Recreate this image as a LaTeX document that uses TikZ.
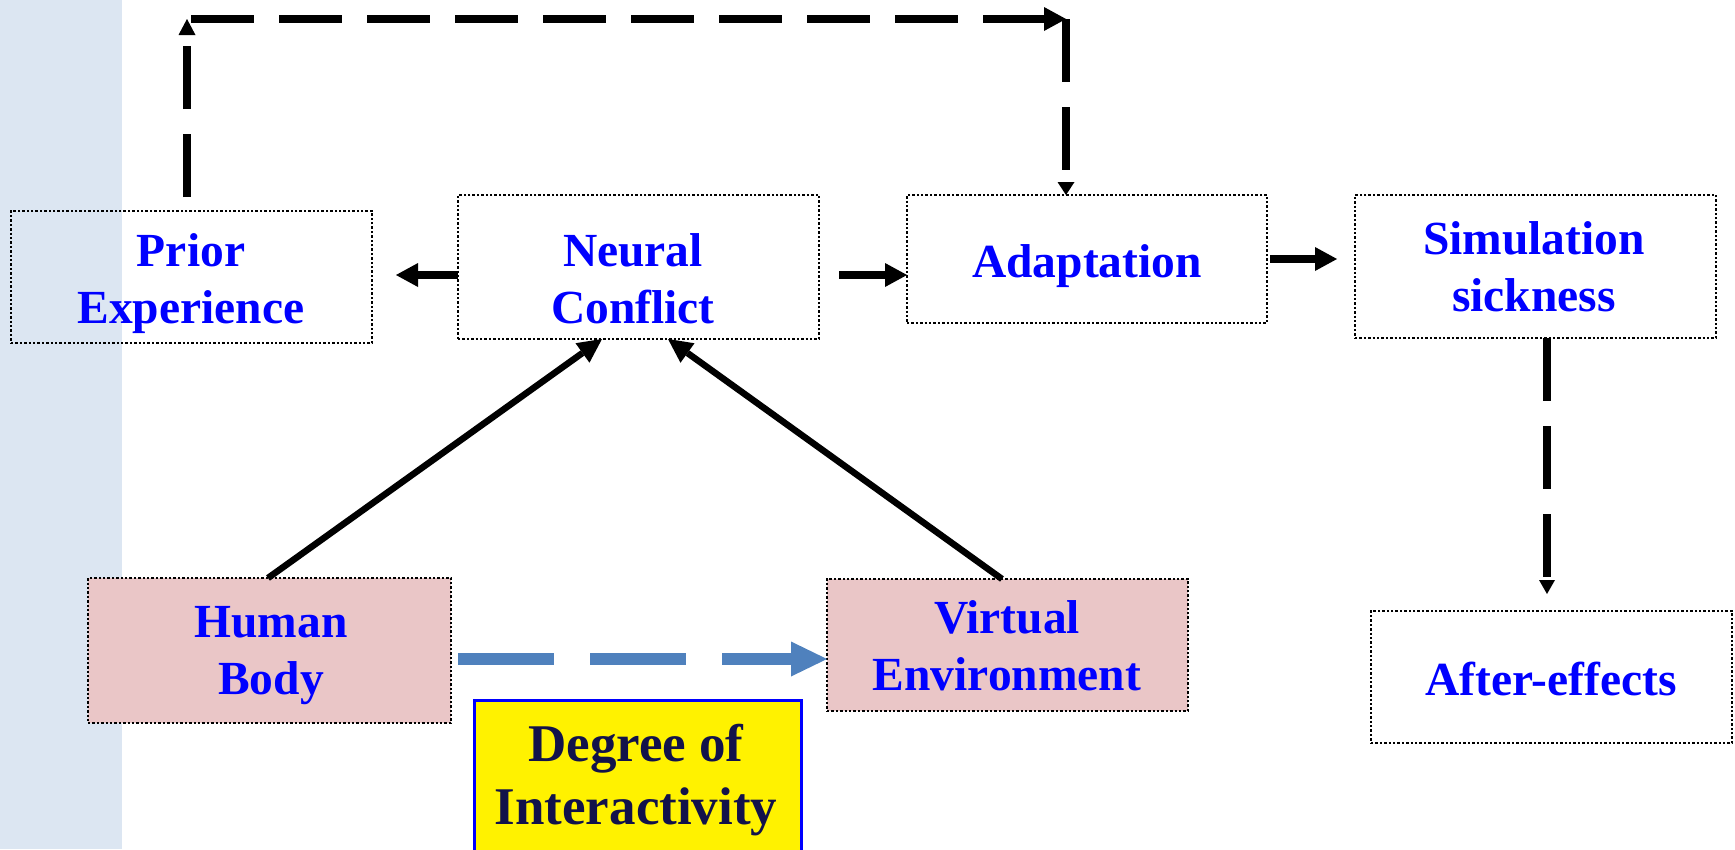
\documentclass[tikz,border=0pt]{standalone}
\usepackage{fontspec}
\setmainfont{Liberation Serif}
\usetikzlibrary{arrows.meta,calc}

\definecolor{stripblue}{HTML}{DCE6F2}
\definecolor{boxpink}{HTML}{EAC6C7}
\definecolor{labelblue}{HTML}{0000FF}
\definecolor{navy}{HTML}{12124A}
\definecolor{flowblue}{HTML}{4F81BD}

\tikzset{
  dotbox/.style={draw=black, line width=2.6pt, dash pattern=on 2.4pt off 2pt,
    inner sep=0pt, outer sep=0pt},
  pinkbox/.style={dotbox, fill=boxpink},
  lbl/.style={align=center, inner sep=0pt, text=labelblue,
    font=\fontsize{47.5pt}{57pt}\selectfont\bfseries},
  bigarr/.style={line width=8pt,
    -{Triangle[length=22pt,width=24pt,line width=0pt]}},
  diagarr/.style={line width=6.5pt,
    -{Triangle[length=24pt,width=24pt,line width=0pt]}},
  longdash/.style={line width=7.5pt, dash pattern=on 63pt off 25pt},
  bluedash/.style={draw=flowblue, line width=12pt, dash pattern=on 96pt off 36pt,
    -{Triangle[length=36pt,width=35pt,line width=0pt]}},
}

\begin{document}
\begin{tikzpicture}[x=1pt,y=-1pt]
\useasboundingbox (0,0) rectangle (1735,849);
\clip (0,0) rectangle (1735,849);

% side band
\fill[stripblue] (0,0) rectangle (122,849);

% boxes
\node[dotbox, minimum width=361pt, minimum height=132pt] (pe) at (191.5,277) {};
\node[dotbox, minimum width=361pt, minimum height=144pt] (nc) at (638.5,267) {};
\node[dotbox, minimum width=360pt, minimum height=128pt] (ad) at (1087,259) {};
\node[dotbox, minimum width=361pt, minimum height=143pt] (ss) at (1535.5,266.5) {};
\node[dotbox, minimum width=361pt, minimum height=132pt] (ae) at (1551.5,677) {};
\node[pinkbox, minimum width=363pt, minimum height=145pt] (hb) at (269.5,650.5) {};
\node[pinkbox, minimum width=361pt, minimum height=132pt] (ve) at (1007.5,645) {};
\node[draw=labelblue, fill=yellow, line width=3pt, inner sep=0pt,
      minimum width=327pt, minimum height=170pt] (deg) at (637.5,785) {};

% labels
\node[lbl] (pe-t) at (191,284) {Prior\\Experience};
\node[lbl] (nc-t) at (633,279) {Neural\\Conflict};
\node[lbl] (ad-t) at (1087,266) {Adaptation};
\node[lbl] (ss-t) at (1534,267) {Simulation\\sickness};
\node[lbl] (ae-t) at (1551,679) {After-effects};
\node[lbl] (hb-t) at (271,656) {Human\\Body};
\node[lbl] (ve-t) at (1007,646) {Virtual\\Environment};
\node[align=center, inner sep=0pt, text=navy,
      font=\fontsize{53pt}{63pt}\selectfont\bfseries] (deg-t) at (636,780)
      {Degree of\\Interactivity};

% solid connectors
\path ($(nc.west)+(0,8)$) coordinate (ncL);
\path ($(nc.east)+(0,8)$) coordinate (ncR);
\draw[bigarr, shorten >=24pt] (ncL) -- (ncL -| pe.east);
\draw[bigarr, shorten <=20pt] (ncR) -- (ncR -| ad.west);
\draw[bigarr, shorten <=3pt, shorten >=18pt] (ad.east) -- (ad.east -| ss.west);
\draw[diagarr] ($(hb.north)+(-1.5,0)$) -- ($(nc.south west)+(144,0)$);
\draw[diagarr] ($(ve.north)+(-5.5,0)$) -- ($(nc.south west)+(210,0)$);

% feedback loop over the top
\coordinate (topL) at (187,19);
\coordinate (topLh) at (191,19);
\coordinate (topR) at (1066,19);
\draw[longdash, shorten <=14pt, -{Triangle[length=16pt,width=17pt,line width=0pt]}]
  (topL |- pe.north) -- (topL);
\draw[longdash, -{Triangle[length=22pt,width=24pt,line width=0pt]}]
  (topLh) -- (topR);
\draw[longdash, -{Triangle[length=13pt,width=17pt,line width=0pt]}]
  (topR) -- (topR |- ad.north);

% to after-effects
\draw[longdash, shorten >=17pt, -{Triangle[length=14pt,width=16pt,line width=0pt]}]
  ($(ss.south)+(11.5,0)$) -- ($(ae.north)+(-4.5,0)$);

% body to environment
\path ($(hb.east)+(0,8.5)$) coordinate (hbR);
\draw[bluedash, shorten <=7pt] (hbR) -- (hbR -| ve.west);
\end{tikzpicture}
\end{document}
